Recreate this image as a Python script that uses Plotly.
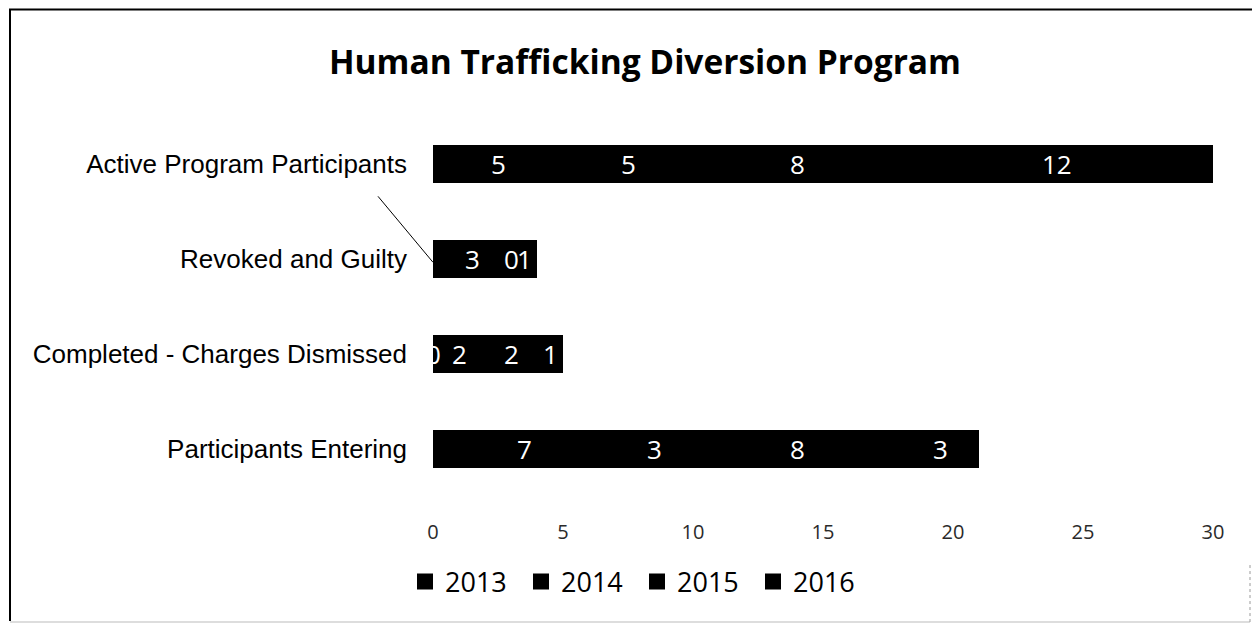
import plotly.graph_objects as go

categories = ["Participants Entering", "Completed - Charges Dismissed", "Revoked and Guilty", "Active Program Participants"]
years = ["2013", "2014", "2015", "2016"]
values_2013 = [7, 0, 3, 5]
values_2014 = [3, 2, 0, 5]
values_2015 = [8, 2, 1, 8]
values_2016 = [3, 1, 0, 12]
series = [values_2013, values_2014, values_2015, values_2016]
x_ticks = [0, 5, 10, 15, 20, 25, 30]

W, H = 1252, 625
L, R, T, B = 433, 1213, 116.6, 495.9
PW, PH = R - L, B - T

def px(x):
    return (x - L) / PW

def py(y):
    return (B - y) / PH

fig = go.Figure()
for name, vals in zip(years, series):
    fig.add_trace(go.Bar(
        y=categories, x=vals, name=name, orientation="h",
        marker=dict(color="#000000", line=dict(width=0)),
        showlegend=False, legendgroup=name,
    ))
    fig.add_trace(go.Scatter(
        x=[None], y=[None], mode="markers", name=name, legendgroup=name,
        marker=dict(symbol="square", size=18, color="#000000"),
        showlegend=True,
    ))

# data labels (the 2016 label of "Revoked and Guilty" was moved away in the original)
cum = [0] * len(categories)
for si, vals in enumerate(series):
    for ci, v in enumerate(vals):
        center = cum[ci] + v / 2
        cum[ci] += v
        if si == 3 and categories[ci] == "Revoked and Guilty":
            continue
        fig.add_annotation(
            x=center, y=categories[ci], text=str(v), showarrow=False,
            font=dict(family="Open Sans", size=26, color="white"),
            xref="x", yref="y",
        )

# leader line
fig.add_shape(type="line", xref="paper", yref="paper",
              x0=px(378), y0=py(196), x1=px(433), y1=py(262),
              line=dict(color="black", width=1))

# outer border
fig.add_shape(type="line", xref="paper", yref="paper",
              x0=px(9), y0=py(9), x1=px(1252), y1=py(9),
              line=dict(color="black", width=2))
fig.add_shape(type="line", xref="paper", yref="paper",
              x0=px(10), y0=py(9), x1=px(10), y1=py(621),
              line=dict(color="black", width=2))
fig.add_shape(type="line", xref="paper", yref="paper",
              x0=px(10), y0=py(622), x1=px(1250), y1=py(622),
              line=dict(color="#bbbbbb", width=1))
fig.add_shape(type="line", xref="paper", yref="paper",
              x0=px(1250), y0=py(565), x1=px(1250), y1=py(622),
              line=dict(color="#999999", width=1, dash="dot"))

fig.update_layout(
    width=W, height=H,
    barmode="stack", bargap=0.6,
    paper_bgcolor="white", plot_bgcolor="white",
    margin=dict(l=L, r=W - R, t=T, b=H - B, autoexpand=False),
    title=dict(text="<b>Human Trafficking Diversion Program</b>", x=645 / W, xanchor="center",
               y=1 - 62 / H, yanchor="middle",
               font=dict(family="Open Sans", size=33.5, color="black")),
    xaxis=dict(range=[0, 30], tickvals=x_ticks, showgrid=False, zeroline=False,
               showline=False, ticks="", ticklabelstandoff=22,
               tickfont=dict(family="Open Sans", size=20, color="#2a2a2a")),
    yaxis=dict(categoryorder="array", categoryarray=categories, showgrid=False,
               showline=False, ticks="", ticklabelstandoff=25,
               tickfont=dict(family="Liberation Sans", size=26, color="black")),
    legend=dict(orientation="h", x=px(405), xanchor="left", y=py(582), yanchor="middle",
                font=dict(family="Open Sans", size=27, color="black"),
                traceorder="normal", itemwidth=30, entrywidthmode="pixels", entrywidth=71,
                bgcolor="rgba(0,0,0,0)"),
    showlegend=True,
)

fig.write_html("out.html", config={"displayModeBar": False},
               post_script="document.body.style.margin='0';document.body.style.overflow='hidden';")
